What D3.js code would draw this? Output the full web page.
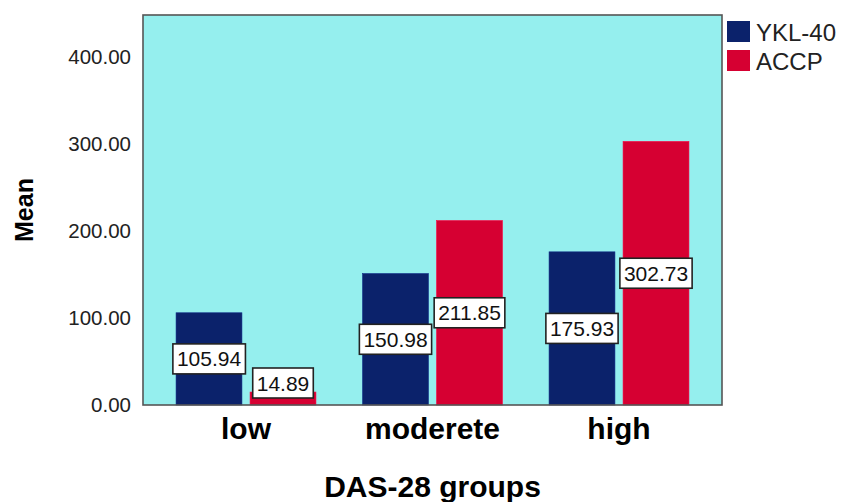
<!DOCTYPE html>
<html>
<head>
<meta charset="utf-8">
<script src="https://cdn.jsdelivr.net/npm/d3@7"></script>
<style>
  html, body { margin: 0; padding: 0; background: #fff; }
  svg { display: block; font-family: Arial, "Liberation Sans", sans-serif; }
</style>
</head>
<body>
<svg id="chart" width="841" height="502"></svg>
<script>
// Mean YKL-40 and ACCP by DAS-28 group
const categories = ["low", "moderete", "high"];
const seriesNames = ["YKL-40", "ACCP"];
const yklValues = [105.94, 150.98, 175.93];
const accpValues = [14.89, 211.85, 302.73];
const yTicks = [0, 100, 200, 300, 400];

const colors = { "YKL-40": "#0b226b", "ACCP": "#d60032" };

const svg = d3.select("#chart");
const frame = { left: 143, right: 722, top: 15, bottom: 405 };

const y = d3.scaleLinear().domain([0, 448]).range([frame.bottom, frame.top]);
const x = d3.scaleBand().domain(categories).range([152.75, 712.25]).paddingInner(0.25).paddingOuter(0.125);
const xs = d3.scaleBand().domain(seriesNames).range([0, x.bandwidth()]).paddingInner(0.11);

const rows = categories.map((c, i) => ({
  category: c,
  values: [
    { series: "YKL-40", value: yklValues[i] },
    { series: "ACCP", value: accpValues[i] }
  ]
}));

// plot background
svg.append("rect")
  .attr("x", frame.left).attr("y", frame.top)
  .attr("width", frame.right - frame.left).attr("height", frame.bottom - frame.top)
  .attr("fill", "#95efee");

// bars
const groups = svg.append("g").selectAll("g").data(rows).join("g")
  .attr("transform", d => `translate(${x(d.category)},0)`);

groups.selectAll("rect").data(d => d.values).join("rect")
  .attr("x", d => xs(d.series))
  .attr("y", d => y(d.value))
  .attr("width", xs.bandwidth())
  .attr("height", d => y(0) - y(d.value))
  .attr("fill", d => colors[d.series])
  .attr("stroke", d => d3.color(colors[d.series]).brighter(0.6))
  .attr("stroke-width", 0.6);

// frame
svg.append("rect")
  .attr("x", frame.left).attr("y", frame.top)
  .attr("width", frame.right - frame.left).attr("height", frame.bottom - frame.top)
  .attr("fill", "none").attr("stroke", "#555").attr("stroke-width", 1.6);

// y axis labels
const yAxis = d3.axisLeft(y).tickValues(yTicks).tickFormat(d3.format(".2f")).tickSize(0).tickPadding(12);
svg.append("g").attr("transform", `translate(${frame.left},0)`).call(yAxis)
  .call(g => g.select(".domain").remove())
  .call(g => g.selectAll("text").attr("font-size", 20.5).attr("fill", "#222")
    .attr("font-family", "Arial, 'Liberation Sans', sans-serif"));

// x axis labels
const xAxis = d3.axisBottom(x).tickSize(0).tickPadding(13);
svg.append("g").attr("transform", `translate(0,${frame.bottom})`).call(xAxis)
  .call(g => g.select(".domain").remove())
  .call(g => g.selectAll("text").attr("font-size", 30).attr("font-weight", "bold").attr("fill", "#000")
    .attr("font-family", "Arial, 'Liberation Sans', sans-serif"));

// value labels
const labelLayer = svg.append("g");
rows.forEach(r => {
  r.values.forEach(v => {
    const cx = x(r.category) + xs(v.series) + xs.bandwidth() / 2;
    const mid = (y(v.value) + y(0)) / 2;
    const cy = Math.min(mid, y(0) - 22);
    const g = labelLayer.append("g");
    const t = g.append("text")
      .attr("x", cx).attr("y", cy)
      .attr("text-anchor", "middle").attr("dominant-baseline", "central")
      .attr("font-size", 21).attr("fill", "#111")
      .text(d3.format(".2f")(v.value));
    const bb = t.node().getBBox();
    g.insert("rect", "text")
      .attr("x", bb.x - 4).attr("y", cy - 15)
      .attr("width", bb.width + 8).attr("height", 30)
      .attr("fill", "#fff").attr("stroke", "#222").attr("stroke-width", 1.6);
  });
});

// axis titles
svg.append("text")
  .attr("x", (frame.left + frame.right) / 2).attr("y", 497)
  .attr("text-anchor", "middle").attr("font-size", 30).attr("font-weight", "bold")
  .text("DAS-28 groups");

svg.append("text")
  .attr("transform", `translate(33,${210}) rotate(-90)`)
  .attr("text-anchor", "middle").attr("font-size", 25).attr("font-weight", "bold")
  .text("Mean");

// legend
const legend = svg.append("g").attr("transform", "translate(727,21)");
const li = legend.selectAll("g").data(seriesNames).join("g")
  .attr("transform", (d, i) => `translate(0,${i * 29})`);
li.append("rect").attr("width", 23).attr("height", 21).attr("fill", d => colors[d]);
li.append("text").attr("x", 29).attr("y", 20).attr("font-size", 24).attr("fill", "#222").text(d => d);
</script>
</body>
</html>
